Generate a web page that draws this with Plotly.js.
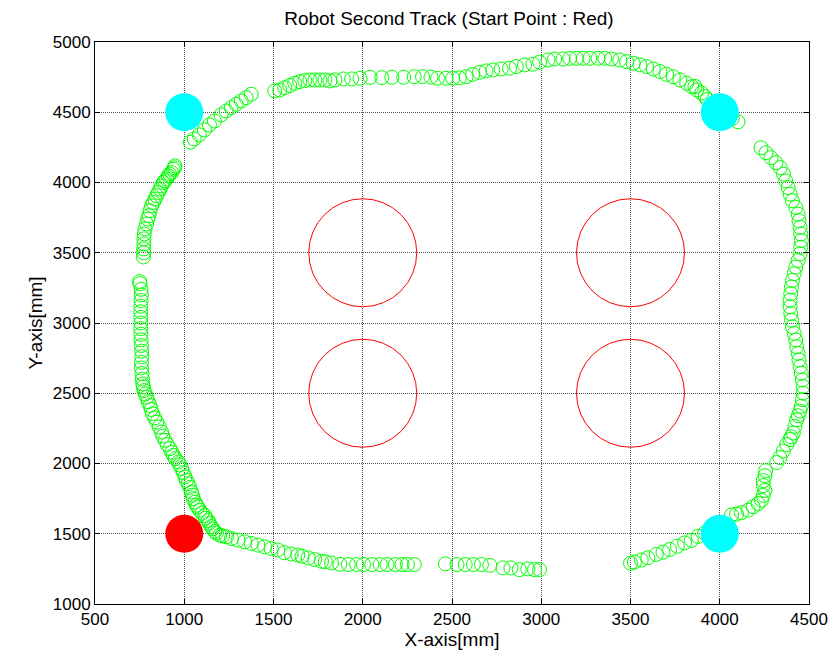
<!DOCTYPE html>
<html>
<head>
<meta charset="utf-8">
<script src="https://cdn.plot.ly/plotly-3.0.1.min.js"></script>
<style>html,body{margin:0;padding:0;background:#fff;}#chart{width:836px;height:666px;}</style>
</head>
<body>
<div id="chart"></div>
<script>
// Green track points (robot second track)
const trackX = [
2289,2250,2220,2183,2136,2098,2051,2004,1966,1919,1872,1825,1790,1769,1731,1694,1660,1636,1599,1561,1524,1487,1450,1413,1375,1338,1301,1264,1236,1215,1199,1180,1171,1160,1152,1140,1134,1120,1115,1100,1087,1075,1069,1060,1050,1045,1041,1030,1022,1012,1004,995,985,975,967,950,939,930,920,905,892,880,873,860,846,835,822,815,808,798,790,782,775,771,768,
765,763,760,760,762,762,760,758,757,756,757,757,756,757,758,760,758,752,750,
771,773,773,774,774,776,780,789,795,802,808,817,827,836,845,855,864,873,883,890,901,911,918,929,938,945,948,
1034,1056,1084,1113,1141,1169,1206,1235,1263,1291,1319,1347,1375,
1507,1535,1563,1591,1619,1647,1675,1704,1732,1760,1788,1816,1844,1891,1938,1985,2041,2107,2163,2229,2288,2335,2382,2419,2466,2504,2541,2579,2616,2654,2691,2729,2775,2822,2860,2906,2953,2991,3038,3075,3122,3159,3197,3234,3272,3318,3356,3393,3440,3478,3515,3553,3590,3628,3665,3702,3740,3777,3815,3843,3861,3871,3898,3918,3930,3960,4000,4040,4070,4102,
4231,4259,4287,4315,4339,4357,4370,4383,4394,4407,4426,4439,4444,4450,4454,4457,4454,4450,4439,4426,4417,4407,4402,4398,4394,4394,4398,4402,4407,4417,4426,4431,4439,4444,4450,4457,4463,4467,4467,4463,4457,4449,4440,4431,4421,4412,4400,4393,4375,4356,4337,4319,4257,4253,4244,4244,4253,4244,4234,4215,4187,4159,4122,4094,4066,4009,3963,3916,3878,3841,3803,3762,3719,3682,3644,3597,3560,3522,3500,
2990,2962,2925,2877,2830,2786,2712,2665,2620,2574,2528,2463
];
const trackY = [
1281,1281,1281,1281,1281,1281,1281,1281,1281,1281,1283,1292,1300,1304,1316,1328,1340,1349,1356,1365,1384,1395,1407,1419,1431,1443,1455,1466,1478,1485,1490,1505,1516,1535,1551,1575,1594,1611,1630,1646,1667,1690,1703,1725,1750,1775,1797,1830,1856,1880,1905,1935,1964,1990,2011,2035,2058,2080,2106,2135,2165,2195,2224,2260,2295,2325,2354,2385,2413,2440,2472,2495,2519,2545,2566,
2600,2640,2680,2720,2760,2800,2840,2880,2920,2960,3000,3040,3080,3120,3160,3200,3240,3280,3295,
3470,3500,3528,3563,3599,3634,3670,3705,3740,3764,3799,3835,3858,3882,3906,3929,3953,3976,4000,4012,4024,4047,4060,4071,4094,4105,4118,
4287,4310,4339,4374,4410,4438,4481,4509,4533,4557,4581,4604,4628,
4652,4659,4675,4690,4706,4718,4725,4730,4730,4730,4730,4723,4730,4737,4737,4742,4749,4746,4749,4749,4753,4753,4750,4742,4742,4742,4745,4753,4770,4784,4794,4801,4808,4813,4825,4837,4842,4856,4872,4879,4879,4884,4884,4884,4884,4884,4884,4879,4872,4860,4849,4837,4825,4808,4790,4770,4753,4730,4706,4682,4684,4659,4637,4611,4590,4560,4520,4480,4455,4432,
4247,4212,4177,4141,4106,4059,4011,3964,3917,3870,3823,3775,3728,3681,3634,3587,3539,3492,3445,3398,3351,3303,3256,3209,3162,3115,3067,3020,2973,2926,2879,2831,2784,2737,2690,2643,2595,2548,2501,2454,2407,2374,2340,2311,2264,2217,2190,2170,2135,2089,2042,2007,1949,1913,1878,1843,1808,1773,1738,1715,1692,1668,1650,1640,1633,1575,1540,1505,1481,1453,1435,1411,1388,1369,1353,1329,1313,1299,1290,
1245,1245,1250,1245,1257,1257,1275,1281,1281,1281,1281,1286
];
// Obstacles (red open circles)
const obstacleX = [2000, 3500, 2000, 3500];
const obstacleY = [3500, 3500, 2500, 2500];
// Landmarks (cyan)
const landmarkX = [1000, 4000, 4000];
const landmarkY = [4500, 4500, 1500];
// Start point (red)
const startX = [1000];
const startY = [1500];

const font = 'Liberation Sans, Arial, sans-serif';
const traces = [
  {x: trackX, y: trackY, type: 'scatter', mode: 'markers',
   marker: {symbol: 'circle-open', size: 14, color: '#00ff00', line: {width: 1, color: '#00ff00'}}},
  {x: obstacleX, y: obstacleY, type: 'scatter', mode: 'markers',
   marker: {symbol: 'circle-open', size: 108, color: '#ff0000', line: {width: 1, color: '#ff0000'}}},
  {x: landmarkX, y: landmarkY, type: 'scatter', mode: 'markers',
   marker: {symbol: 'circle', size: 38, color: '#00ffff', line: {width: 0}}},
  {x: startX, y: startY, type: 'scatter', mode: 'markers',
   marker: {symbol: 'circle', size: 38, color: '#ff0000', line: {width: 0}}}
];
const axisCommon = {
  showline: true, linecolor: '#000', linewidth: 1, mirror: 'ticks',
  ticks: 'inside', ticklen: 5, tickcolor: '#000', tickwidth: 1,
  showgrid: true, gridcolor: '#555', griddash: '1px,1px', gridwidth: 1,
  zeroline: false, tickfont: {family: font, size: 17, color: '#000'}
};
const layout = {
  width: 836, height: 666,
  margin: {l: 95, r: 27, t: 42, b: 62},
  paper_bgcolor: '#fff', plot_bgcolor: '#fff',
  showlegend: false,
  title: {text: 'Robot Second Track (Start Point : Red)', font: {family: font, size: 19, color: '#000'},
          x: 0.537, xanchor: 'center', y: 0.972, yanchor: 'middle', yref: 'container'},
  xaxis: Object.assign({}, axisCommon, {range: [500, 4500], dtick: 500, tick0: 500,
          title: {text: 'X-axis[mm]', font: {family: font, size: 19, color: '#000'}, standoff: 3}}),
  yaxis: Object.assign({}, axisCommon, {range: [1000, 5000], dtick: 500, tick0: 1000,
          title: {text: 'Y-axis[mm]', font: {family: font, size: 19, color: '#000'}, standoff: 5}})
};
Plotly.newPlot('chart', traces, layout, {displayModeBar: false, staticPlot: true});
</script>
</body>
</html>
